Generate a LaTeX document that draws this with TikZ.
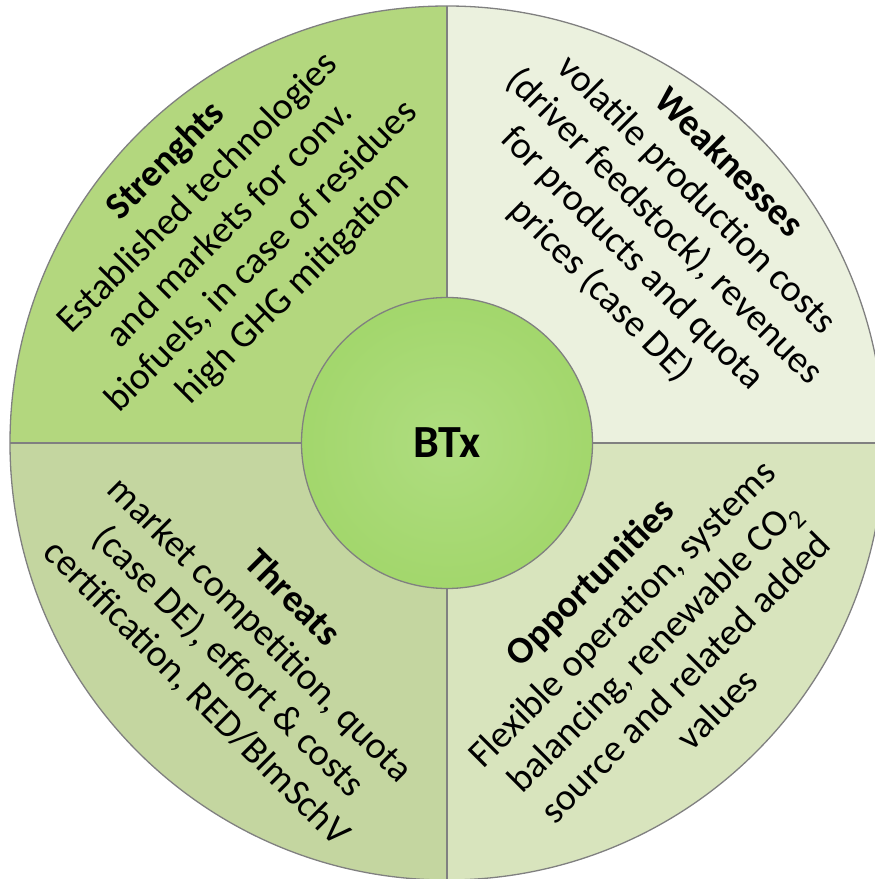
\documentclass[tikz,border=0pt]{standalone}
\usepackage{fontspec}
\setmainfont{Carlito}
\definecolor{strfill}{RGB}{179,215,126}
\definecolor{weakfill}{RGB}{235,241,222}
\definecolor{thrfill}{RGB}{196,214,160}
\definecolor{oppfill}{RGB}{216,228,189}
\definecolor{edgegray}{RGB}{128,128,128}
\definecolor{coreinner}{RGB}{175,221,128}
\definecolor{coreouter}{RGB}{150,208,88}
\pgfdeclareradialshading{coreglow}{\pgfpoint{0bp}{0bp}}{%
  color(0bp)=(coreinner); color(50bp)=(coreouter); color(100bp)=(coreouter)}
\tikzset{
  sector/.style={draw=edgegray, line width=1.3pt},
  swottext/.style={align=center, font=\fontsize{38}{45}\selectfont, inner sep=0pt},
  core/.style={circle, draw=edgegray, line width=1.3pt, shading=coreglow,
    minimum size=291pt, inner sep=0pt, font=\fontsize{46}{50}\selectfont\bfseries}
}
\begin{document}
\begin{tikzpicture}[x=1pt,y=1pt]
  \useasboundingbox (0,0) rectangle (875,879);
  \clip (0,0) rectangle (875,879);
  \coordinate (C) at (447,436);
  % four quarter sectors of the outer disc
  \fill[strfill]  (C) -- ++(180:437) arc[start angle=180, end angle=90,  radius=437] -- cycle;
  \fill[weakfill] (C) -- ++(90:437)  arc[start angle=90,  end angle=0,   radius=437] -- cycle;
  \fill[thrfill]  (C) -- ++(180:437) arc[start angle=180, end angle=270, radius=437] -- cycle;
  \fill[oppfill]  (C) -- ++(270:437) arc[start angle=270, end angle=360, radius=437] -- cycle;
  \draw[sector] (C) circle[radius=437];
  \draw[sector] ([xshift=-437pt]C) -- ([xshift=437pt]C);
  \draw[sector] ([yshift=-437pt]C) -- ([yshift=437pt]C);
  % centre disc
  \node[core] (btx) at (C) {BTx};
  % quadrant texts
  \node[swottext, rotate=45] (str) at (230,654)
    {\textbf{Strenghts}\\Established technologies\\and markets for conv.\\biofuels, in case of residues\\high GHG mitigation};
  \node[swottext, rotate=-45] (weak) at (664,652)
    {\textbf{Weaknesses}\\volatile production costs\\(driver feedstock), revenues\\for products and quota\\prices (case DE)};
  \node[swottext, rotate=-45] (thr) at (244,233)
    {\textbf{Threats}\\market competition, quota\\(case DE), effort \& costs\\certification, RED/BImSchV};
  \node[swottext, rotate=45] (opp) at (653,234)
    {\textbf{Opportunities}\\Flexible operation, systems\\balancing, renewable CO\textsubscript{2}\\source and related added\\values};
\end{tikzpicture}
\end{document}
